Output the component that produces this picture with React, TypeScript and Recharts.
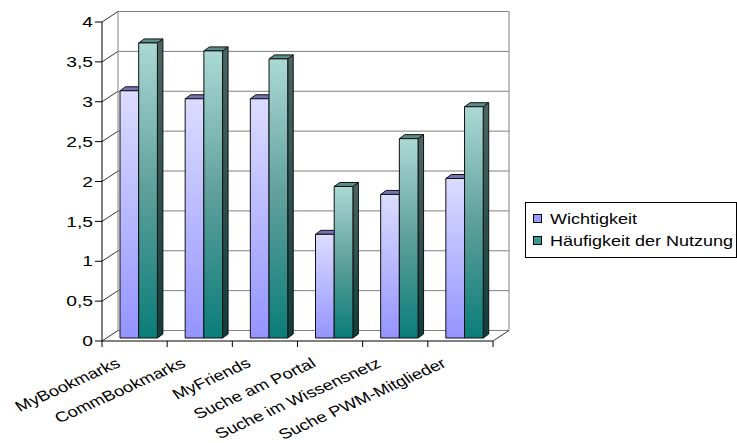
import { BarChart, Bar, XAxis, YAxis, CartesianGrid, Legend, Customized } from "recharts";

const categories = [
  "MyBookmarks",
  "CommBookmarks",
  "MyFriends",
  "Suche am Portal",
  "Suche im Wissensnetz",
  "Suche PWM-Mitglieder",
];
const wichtigkeit = [3.1, 3.0, 3.0, 1.3, 1.8, 2.0];
const haeufigkeit = [3.7, 3.6, 3.5, 1.9, 2.5, 2.9];
const yTicks = [0, 0.5, 1, 1.5, 2, 2.5, 3, 3.5, 4];

const data = categories.map((name, i) => ({
  name,
  wichtigkeit: wichtigkeit[i],
  haeufigkeit: haeufigkeit[i],
}));

// layout of the pseudo-3d frame
const W = 737;
const H = 443;
const PLOT = { left: 102, top: 22, right: 493, bottom: 341 };
const WALL = { dx: 16, dy: -10.5 };
const SHIFT = { dx: 4, dy: -3 };
const DEPTH = { dx: 5.5, dy: -4 };
const SX = 1.28; // axis text in the picture is stretched horizontally
const SX_LEGEND = 1.2;
const FONT = "Liberation Sans, Arial, sans-serif";
const band = (PLOT.right - PLOT.left) / categories.length;

function Box3D(props: any) {
  const { x, y, width, height, front, top, side } = props;
  if (!height || height <= 0) return null;
  const x0 = x + SHIFT.dx;
  const y0 = y + SHIFT.dy;
  const w = width;
  const h = height;
  return (
    <g stroke="#111" strokeWidth={1} strokeLinejoin="round">
      <polygon
        points={`${x0 + w},${y0} ${x0 + w + DEPTH.dx},${y0 + DEPTH.dy} ${x0 + w + DEPTH.dx},${y0 + h + DEPTH.dy} ${x0 + w},${y0 + h}`}
        fill={side}
      />
      <polygon
        points={`${x0},${y0} ${x0 + DEPTH.dx},${y0 + DEPTH.dy} ${x0 + w + DEPTH.dx},${y0 + DEPTH.dy} ${x0 + w},${y0}`}
        fill={top}
      />
      <rect x={x0} y={y0} width={w} height={h} fill={front} />
    </g>
  );
}

function WallLine(props: any) {
  const { x1, y1, x2 } = props;
  return (
    <g key={props.key}>
      <line x1={x1 + WALL.dx} y1={y1 + WALL.dy} x2={x2 + WALL.dx} y2={y1 + WALL.dy} stroke="#808080" />
      <line x1={x1} y1={y1} x2={x1 + WALL.dx} y2={y1 + WALL.dy} stroke="#333" />
    </g>
  );
}

function Frame() {
  const bx = PLOT.left + WALL.dx;
  const rx = PLOT.right + WALL.dx;
  const ty = PLOT.top + WALL.dy;
  const by = PLOT.bottom + WALL.dy;
  return (
    <g>
      <line x1={bx} y1={ty} x2={bx} y2={by} stroke="#808080" />
      <line x1={rx} y1={ty} x2={rx} y2={by} stroke="#808080" />
      <line x1={PLOT.right} y1={PLOT.bottom} x2={rx} y2={by} stroke="#333" />
    </g>
  );
}

function YTick(props: any) {
  const { x, y, payload } = props;
  const label = String(payload.value).replace(".", ",");
  return (
    <text
      transform={`translate(${x},${y}) scale(${SX},1)`}
      textAnchor="end"
      dominantBaseline="central"
      fontFamily={FONT}
      fontSize={15}
      fill="#000"
    >
      {label}
    </text>
  );
}

function XTick(props: any) {
  const { x, y, payload, index } = props;
  const tx = x - 13;
  const ty = y + 25;
  const left = x - band / 2;
  return (
    <g>
      <line x1={left} y1={y} x2={left} y2={y + 6} stroke="#000" />
      {index === categories.length - 1 && (
        <line x1={x + band / 2} y1={y} x2={x + band / 2} y2={y + 6} stroke="#000" />
      )}
      <text
        transform={`translate(${tx},${ty}) scale(${SX},1) rotate(-30)`}
        textAnchor="end"
        fontFamily={FONT}
        fontSize={14.5}
        fill="#000"
      >
        {payload.value}
      </text>
    </g>
  );
}

function LegendBox() {
  const items = [
    { label: "Wichtigkeit", color: "#9999ff" },
    { label: "Häufigkeit der Nutzung", color: "#339999" },
  ];
  return (
    <div
      style={{
        border: "1px solid #000",
        background: "#fff",
        width: 212,
        height: 56,
        boxSizing: "border-box",
        paddingTop: 4,
        fontFamily: FONT,
        fontSize: 15,
        lineHeight: "17px",
      }}
    >
      {items.map((it) => (
        <div key={it.label} style={{ height: 22, display: "flex", alignItems: "center", paddingLeft: 7 }}>
          <span
            style={{
              width: 7,
              height: 7,
              background: it.color,
              border: "1px solid #000",
              display: "inline-block",
              marginRight: 8,
              flex: "none",
            }}
          />
          <span
            style={{
              display: "inline-block",
              transform: `scaleX(${SX_LEGEND})`,
              transformOrigin: "left center",
              whiteSpace: "nowrap",
            }}
          >
            {it.label}
          </span>
        </div>
      ))}
    </div>
  );
}

export default function App() {
  return (
    <div style={{ position: "absolute", left: 0, top: 0, width: W, height: H, background: "#fff", overflow: "hidden" }}>
      <svg width={0} height={0} style={{ position: "absolute" }}>
        <defs>
          <linearGradient id="wFront" x1="0" y1="0" x2="0" y2="1">
            <stop offset="0%" stopColor="#dcdcff" />
            <stop offset="100%" stopColor="#9494ff" />
          </linearGradient>
          <linearGradient id="hFront" x1="0" y1="0" x2="0" y2="1">
            <stop offset="0%" stopColor="#abd9d5" />
            <stop offset="50%" stopColor="#5e9f9b" />
            <stop offset="100%" stopColor="#0a7d79" />
          </linearGradient>
          <linearGradient id="hSide" x1="0" y1="0" x2="0" y2="1">
            <stop offset="0%" stopColor="#4d6664" />
            <stop offset="100%" stopColor="#0f3d3b" />
          </linearGradient>
          <linearGradient id="wSide" x1="0" y1="0" x2="0" y2="1">
            <stop offset="0%" stopColor="#8a8ac0" />
            <stop offset="100%" stopColor="#5a5aa8" />
          </linearGradient>
        </defs>
      </svg>
      <BarChart
        width={W}
        height={H}
        data={data}
        margin={{ top: PLOT.top, right: W - PLOT.right, left: PLOT.left - 60, bottom: H - PLOT.bottom - 60 }}
        barGap={0}
        barSize={18.7}
      >
        <CartesianGrid horizontal={WallLine} vertical={false} />
        <Customized component={<Frame />} />
        <XAxis
          dataKey="name"
          height={60}
          interval={0}
          tickSize={0}
          tickMargin={0}
          tickLine={false}
          axisLine={{ stroke: "#000" }}
          tick={<XTick />}
        />
        <YAxis
          width={60}
          domain={[0, 4]}
          ticks={yTicks}
          tickSize={7}
          tickMargin={2}
          axisLine={{ stroke: "#000" }}
          tickLine={{ stroke: "#000" }}
          tick={<YTick />}
        />
        <Legend
          layout="horizontal"
          verticalAlign="middle"
          align="center"
          wrapperStyle={{ position: "absolute", left: 525, top: 202, width: 212 }}
          content={() => <LegendBox />}
        />
        <Bar
          dataKey="wichtigkeit"
          name="Wichtigkeit"
          isAnimationActive={false}
          shape={(p: any) => <Box3D {...p} front="url(#wFront)" top="#7373b5" side="url(#wSide)" />}
        />
        <Bar
          dataKey="haeufigkeit"
          name="Häufigkeit der Nutzung"
          isAnimationActive={false}
          shape={(p: any) => <Box3D {...p} front="url(#hFront)" top="#5c8c88" side="url(#hSide)" />}
        />
      </BarChart>
    </div>
  );
}
